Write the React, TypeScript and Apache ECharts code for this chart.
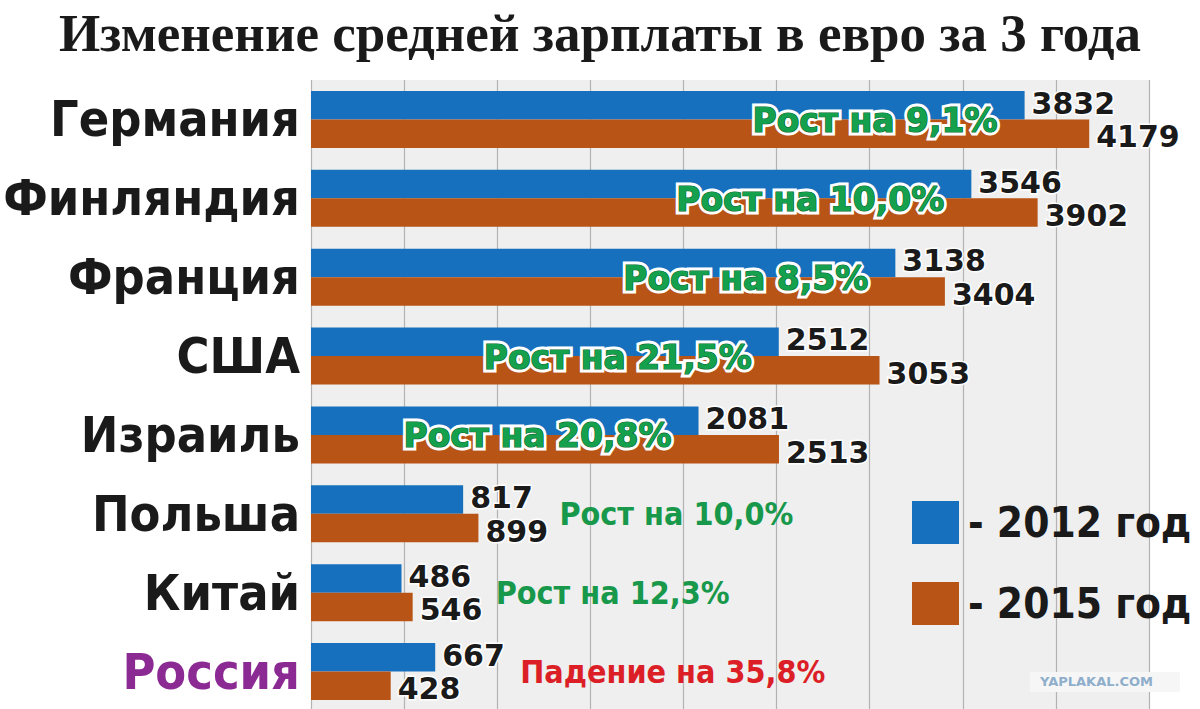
import React, { useEffect, useRef } from "react";
import * as echarts from "echarts";

const categories = ["Германия", "Финляндия", "Франция", "США", "Израиль", "Польша", "Китай", "Россия"];
const values2012 = [3832, 3546, 3138, 2512, 2081, 817, 486, 667];
const values2015 = [4179, 3902, 3404, 3053, 2513, 899, 546, 428];
const seriesNames = ["2012 год", "2015 год"];
const xTicks = { min: 0, max: 4500, interval: 500 };
const insideCount = 5; // first rows whose growth label sits inside the bars

const BLUE = "#1670bd";
const ORANGE = "#b85516";
const SANS = "DejaVu Sans";
const COND = '"DejaVu Sans Condensed", "DejaVu Sans"';

function growthText(i: number): string {
  const g = (values2015[i] / values2012[i] - 1) * 100;
  const s = Math.abs(g).toFixed(1).replace(".", ",");
  return g >= 0 ? `Рост на ${s}%` : `Падение на ${s}%`;
}

export default function App() {
  const ref = useRef<HTMLDivElement>(null);
  useEffect(() => {
    if (!ref.current) return;
    const chart = echarts.init(ref.current, null, { renderer: "svg" });

    const insideLayer = (border: string, bw: number) =>
      categories.slice(0, insideCount).map((c, i) => ({
        value: [values2012[i], c],
        label: {
          position: "left",
          offset: [-22, 1],
          fontFamily: SANS,
          fontWeight: "bold",
          fontSize: 33,
          color: "#14a04d",
          opacity: 1,
          textBorderColor: border,
          textBorderWidth: bw,
        },
      }));

    const outsideData = categories.slice(insideCount).map((c, k) => {
      const i = k + insideCount;
      const g = values2015[i] - values2012[i];
      return {
        value: [Math.max(values2012[i], values2015[i]), c],
        label: {
          position: "right",
          offset: [[76, 78, 80][k], 0],
          fontFamily: COND,
          fontWeight: "bold",
          fontSize: 32,
          opacity: 1,
          color: g >= 0 ? "#17984a" : "#dc1f26",
        },
      };
    });

    const valueLabel = (dy: number) => ({
      show: true,
      position: "right",
      distance: 7,
      offset: [0, dy],
      fontFamily: SANS,
      fontWeight: "bold",
      fontSize: 30,
      color: "#1a1a1a",
      textBorderColor: "#ffffff",
      textBorderWidth: 3,
    });
    const growthLabel = {
      show: true,
      opacity: 1,
      formatter: (p: any) => growthText(categories.indexOf(p.value[1])),
    };
    const scatterBase = {
      type: "scatter",
      symbolSize: 0,
      silent: true,
      itemStyle: { opacity: 1 },
      label: growthLabel,
    };

    chart.setOption({
      animation: false,
      backgroundColor: "#ffffff",
      title: {
        text: "Изменение средней зарплаты в евро за 3 года",
        left: "center",
        top: 1,
        textStyle: {
          fontFamily: "Liberation Serif",
          fontWeight: "bold",
          fontSize: 53,
          color: "#1a1a1a",
        },
      },
      legend: {
        orient: "vertical",
        left: 907,
        top: 496,
        itemWidth: 47,
        itemHeight: 43,
        itemGap: 38,
        icon: "rect",
        data: seriesNames,
        formatter: (n: string) => "- " + n,
        textStyle: {
          fontFamily: COND,
          fontWeight: "bold",
          fontSize: 42,
          color: "#1a1a1a",
          padding: [0, 0, 0, 4],
        },
      },
      grid: {
        left: 311,
        top: 80,
        width: 838,
        height: 631,
        show: true,
        backgroundColor: "#efefef",
        borderWidth: 0,
        containLabel: false,
        outerBoundsMode: "none",
      },
      xAxis: {
        type: "value",
        min: xTicks.min,
        max: xTicks.max,
        interval: xTicks.interval,
        axisLabel: { show: false },
        axisLine: { show: false },
        axisTick: { show: false },
        splitLine: { show: true, lineStyle: { color: "#b3b3b3", width: 1.2 } },
      },
      yAxis: {
        type: "category",
        data: categories,
        inverse: true,
        axisLine: { show: false },
        axisTick: { show: false },
        axisLabel: {
          margin: 11,
          fontFamily: COND,
          fontWeight: "bold",
          fontSize: 50,
          color: (v: string) => (v === "Россия" ? "#8b2a92" : "#1a1a1a"),
        },
      },
      series: [
        {
          name: seriesNames[0],
          type: "bar",
          data: values2012,
          barWidth: 28.5,
          barGap: "0%",
          itemStyle: { color: BLUE },
          label: valueLabel(-2),
        },
        {
          name: seriesNames[1],
          type: "bar",
          data: values2015,
          barWidth: 28.5,
          barGap: "0%",
          itemStyle: { color: ORANGE },
          label: valueLabel(3),
        },
        { ...scatterBase, data: insideLayer("#ffffff", 7), z: 5 },
        { ...scatterBase, data: insideLayer("#0d6a32", 1.2), z: 6 },
        { ...scatterBase, data: outsideData, z: 5 },
      ],
      graphic: [
        {
          type: "rect",
          left: 1030,
          top: 672,
          shape: { width: 150, height: 20 },
          style: { fill: "#f6f6f6" },
          z: 10,
        },
        {
          type: "text",
          left: 1040,
          top: 675,
          style: {
            text: "YAPLAKAL.COM",
            fontFamily: SANS,
            fontWeight: "bold",
            fontSize: 13,
            fill: "#8eaecb",
          },
          z: 11,
        },
      ],
    });
    return () => chart.dispose();
  }, []);
  return (
    <div
      ref={ref}
      style={{ position: "fixed", left: 0, top: 0, width: 1200, height: 709 }}
    />
  );
}
